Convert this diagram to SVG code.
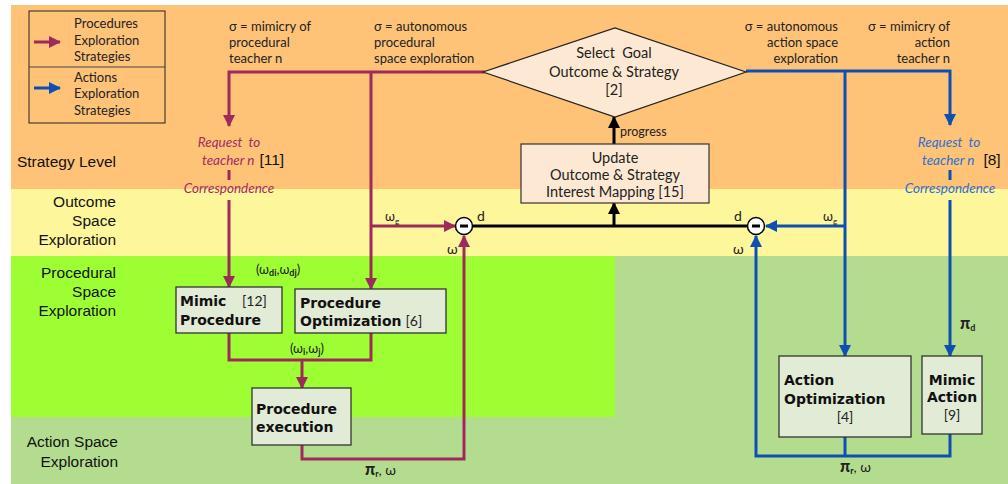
<svg xmlns="http://www.w3.org/2000/svg" width="1008" height="484" viewBox="0 0 1008 484">
<style>
.gs{font-family:Lato,"Open Sans","Noto Sans",sans-serif;fill:#222}
.ar{font-family:"Liberation Sans",Arial,sans-serif;fill:#111;font-size:15.5px}
.bx{fill:#e2ebd6;stroke:#333;stroke-width:1.3}
.bt{font-family:"DejaVu Sans",Verdana,sans-serif;font-weight:700;font-size:14px;fill:#111}
.ref{font-family:Lato,"Noto Sans",sans-serif;font-weight:400;font-size:14px;fill:#222}
.red{fill:none;stroke:#9e2a5c;stroke-width:3}
.blue{fill:none;stroke:#0f4fb3;stroke-width:3}
.blk{fill:none;stroke:#000;stroke-width:3}
.ri{font-family:Lato,"Noto Sans",sans-serif;font-style:italic;font-size:13.5px;fill:#a32c63}
.bi{font-family:Lato,"Noto Sans",sans-serif;font-style:italic;font-size:13.5px;fill:#2f6fd0}
.lb{font-family:Lato,"Noto Sans",sans-serif;font-size:13px;fill:#222}
</style>
<defs>
<marker id="ar" markerWidth="12" markerHeight="12" refX="11" refY="6" orient="auto" markerUnits="userSpaceOnUse"><path d="M0,0 L12,6 L0,12 z" fill="#9e2a5c"/></marker>
<marker id="ab" markerWidth="12" markerHeight="12" refX="11" refY="6" orient="auto" markerUnits="userSpaceOnUse"><path d="M0,0 L12,6 L0,12 z" fill="#0f4fb3"/></marker>
<marker id="ak" markerWidth="12" markerHeight="12" refX="11" refY="6" orient="auto" markerUnits="userSpaceOnUse"><path d="M0,0 L12,6 L0,12 z" fill="#000"/></marker>
</defs>
<rect width="1008" height="484" fill="#fff"/>
<g id="bands">
<rect x="11" y="5" width="997" height="184" fill="#fec377"/>
<rect x="11" y="189" width="997" height="67" fill="#fdf69b"/>
<rect x="11" y="256" width="997" height="228" fill="#b4dc8f"/>
<rect x="11" y="256" width="604" height="161" fill="#9dfe34"/>
</g>
<g id="lane-labels" class="ar">
<text x="116" y="167" text-anchor="end">Strategy Level</text>
<text x="116" y="207" text-anchor="end">Outcome</text>
<text x="116" y="226" text-anchor="end">Space</text>
<text x="116" y="245" text-anchor="end">Exploration</text>
<text x="116" y="278" text-anchor="end">Procedural</text>
<text x="116" y="297" text-anchor="end">Space</text>
<text x="116" y="316" text-anchor="end">Exploration</text>
<text x="118" y="447" text-anchor="end">Action Space</text>
<text x="118" y="467" text-anchor="end">Exploration</text>
</g>
<g id="legend">
<rect x="29" y="11" width="136" height="112" fill="none" stroke="#222" stroke-width="1"/>
<line x1="29" y1="67" x2="165" y2="67" stroke="#444" stroke-width="1"/>
<line x1="34" y1="42" x2="60" y2="42" stroke="#9e2a5c" stroke-width="3" marker-end="url(#ar)"/>
<line x1="34" y1="88" x2="60" y2="88" stroke="#0f4fb3" stroke-width="3" marker-end="url(#ab)"/>
<g class="lb" font-size="12.5">
<text x="74" y="28">Procedures</text><text x="74" y="45">Exploration</text><text x="74" y="61">Strategies</text>
<text x="74" y="82">Actions</text><text x="74" y="98">Exploration</text><text x="74" y="115">Strategies</text>
</g>
</g>
<g id="top-labels" class="lb">
<text x="229" y="31">σ = mimicry of</text><text x="229" y="47">procedural</text><text x="229" y="63">teacher n</text>
<text x="374" y="31">σ = autonomous</text><text x="374" y="47">procedural</text><text x="374" y="63">space exploration</text>
<text x="838" y="31" text-anchor="end">σ = autonomous</text><text x="838" y="47" text-anchor="end">action space</text><text x="838" y="63" text-anchor="end">exploration</text>
<text x="950" y="31" text-anchor="end">σ = mimicry of</text><text x="950" y="47" text-anchor="end">action</text><text x="950" y="63" text-anchor="end">teacher n</text>
</g>
<g id="connectors">
<path class="red" d="M485,72 H229 V126" marker-end="url(#ar)"/>
<path class="red" d="M229,170 V180"/>
<path class="red" d="M229,200 V287" marker-end="url(#ar)"/>
<path class="red" d="M371,72 V289" marker-end="url(#ar)"/>
<path class="red" d="M371,226 H455" marker-end="url(#ar)"/>
<path class="red" d="M229,333 V360 H371 V333"/>
<path class="red" d="M302,360 V388" marker-end="url(#ar)"/>
<path class="red" d="M302,445 V459 H464 V236" marker-end="url(#ar)"/>
<path class="blue" d="M746,71 H950 V125" marker-end="url(#ab)"/>
<path class="blue" d="M950,170 V180"/>
<path class="blue" d="M950,200 V356" marker-end="url(#ab)"/>
<path class="blue" d="M845,71 V356" marker-end="url(#ab)"/>
<path class="blue" d="M845,226 H766" marker-end="url(#ab)"/>
<path class="blue" d="M845,437 V456"/>
<path class="blue" d="M950,434 V456 H756 V236" marker-end="url(#ab)"/>
<path class="blk" d="M473,226 H747"/>
<path class="blk" d="M614,226 V203" marker-end="url(#ak)"/>
<path class="blk" d="M614,144 V117" marker-end="url(#ak)"/>
</g>
<g id="connector-labels" class="gs" font-size="14">
<text x="385" y="221" font-size="13">ω<tspan font-size="8" dy="3">g</tspan></text>
<text x="477" y="221">d</text>
<text x="447" y="254">ω</text>
<text x="823" y="221" font-size="13">ω<tspan font-size="8" dy="3">g</tspan></text>
<text x="734" y="221">d</text>
<text x="733" y="254">ω</text>
<text x="620" y="136" font-size="12.5">progress</text>
<text x="256" y="274" font-size="13">(ω<tspan font-size="9" font-weight="700" dy="2">di</tspan><tspan dy="-2">,ω</tspan><tspan font-size="9" font-weight="700" dy="2">dj</tspan><tspan dy="-2">)</tspan></text>
<text x="290" y="353" font-size="13">(ω<tspan font-size="9" font-weight="700" dy="2">i</tspan><tspan dy="-2">,ω</tspan><tspan font-size="9" font-weight="700" dy="2">j</tspan><tspan dy="-2">)</tspan></text>
<text x="365" y="475" font-size="14"><tspan font-weight="900" font-size="16">π</tspan><tspan font-size="9" font-weight="700" dy="2">r</tspan><tspan dy="-2">, ω</tspan></text>
<text x="840" y="472" font-size="14"><tspan font-weight="900" font-size="16">π</tspan><tspan font-size="9" font-weight="700" dy="2">r</tspan><tspan dy="-2">, ω</tspan></text>
<text x="960" y="329" font-size="14"><tspan font-weight="900" font-size="16">π</tspan><tspan font-size="9" font-weight="700" dy="2">d</tspan></text>
</g>
<g id="request-proc">
<text class="ri" x="229" y="147" text-anchor="middle">Request&#160; to</text>
<text x="202" y="165"><tspan class="ri">teacher n</tspan><tspan class="ar" font-size="13" dx="5">[11]</tspan></text>
<text class="ri" x="229" y="193" text-anchor="middle">Correspondence</text>
</g>
<g id="request-act">
<text class="bi" x="949" y="147" text-anchor="middle">Request&#160; to</text>
<text x="922" y="165"><tspan class="bi">teacher n</tspan><tspan class="ar" font-size="13" dx="9">[8]</tspan></text>
<text class="bi" x="950" y="193" text-anchor="middle">Correspondence</text>
</g>
<g id="select-goal">
<polygon points="483,72 615,28 746,72 615,117" fill="#fde9d3" stroke="#222" stroke-width="1.2"/>
<g class="gs" font-size="14.5" text-anchor="middle">
<text x="614" y="58">Select&#160; Goal</text>
<text x="614" y="77">Outcome &amp; Strategy</text>
<text x="614" y="95">[2]</text>
</g>
</g>
<g id="update">
<rect x="521" y="144" width="188" height="59" fill="#fde9d3" stroke="#333" stroke-width="1.2"/>
<g class="gs" font-size="14.5" text-anchor="middle">
<text x="615" y="163">Update</text>
<text x="615" y="180">Outcome &amp; Strategy</text>
<text x="615" y="197">Interest Mapping [15]</text>
</g>
</g>
<g id="minus-left">
<circle cx="464" cy="226" r="8.5" fill="#fff" stroke="#000" stroke-width="1.5"/>
<rect x="460" y="224.5" width="8" height="3" fill="#000"/>
</g>
<g id="minus-right">
<circle cx="756" cy="226" r="8.5" fill="#fff" stroke="#000" stroke-width="1.5"/>
<rect x="752" y="224.5" width="8" height="3" fill="#000"/>
</g>
<g id="mimic-procedure">
<rect class="bx" x="176" y="287" width="106" height="46"/>
<text class="bt" x="180" y="306">Mimic</text>
<text class="ref" x="242" y="306">[12]</text>
<text class="bt" x="180" y="325">Procedure</text>
</g>
<g id="procedure-optimization">
<rect class="bx" x="295" y="289" width="151" height="44"/>
<text class="bt" x="300" y="308">Procedure</text>
<text x="300" y="326"><tspan class="bt">Optimization</tspan><tspan class="ref" dx="4">[6]</tspan></text>
</g>
<g id="procedure-execution">
<rect class="bx" x="252" y="388" width="99" height="57"/>
<text class="bt" x="256" y="414">Procedure</text>
<text class="bt" x="256" y="432">execution</text>
</g>
<g id="action-optimization">
<rect class="bx" x="779" y="356" width="132" height="81"/>
<text class="bt" x="784" y="385">Action</text>
<text class="bt" x="784" y="404">Optimization</text>
<text class="ref" x="845" y="422" text-anchor="middle">[4]</text>
</g>
<g id="mimic-action">
<rect class="bx" x="922" y="356" width="60" height="78"/>
<text class="bt" x="952" y="385" text-anchor="middle">Mimic</text>
<text class="bt" x="952" y="402" text-anchor="middle">Action</text>
<text class="ref" x="952" y="420" text-anchor="middle">[9]</text>
</g>
</svg>
